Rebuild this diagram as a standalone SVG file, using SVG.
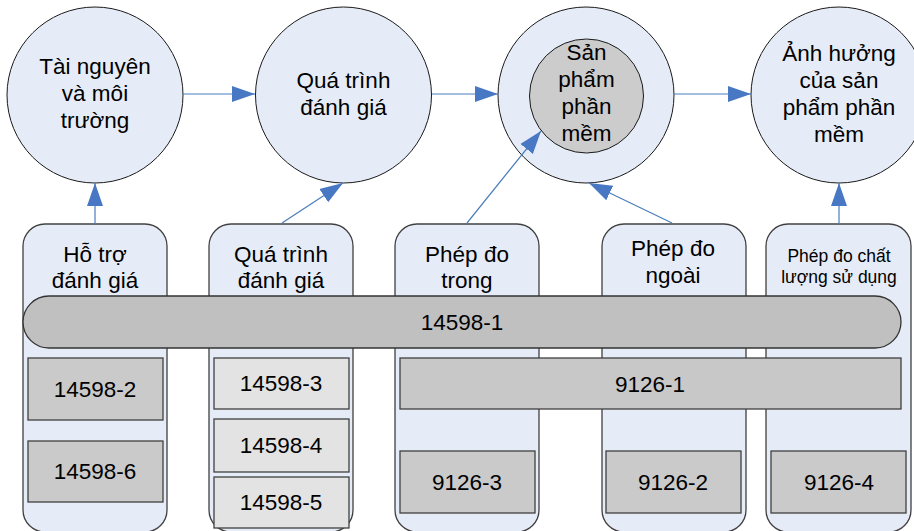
<svg xmlns="http://www.w3.org/2000/svg" width="914" height="531" viewBox="0 0 914 531">
<style>
text{font-family:"Liberation Sans",Arial,sans-serif;font-size:22.5px;fill:#000;text-anchor:middle}
.sm{font-size:17.5px}
.circ{fill:#e6ecf7;stroke:#1a1a1a;stroke-width:1}
.inner{fill:#cccccc;stroke:#1a1a1a;stroke-width:1}
.col{fill:#e6ecf7;stroke:#404040;stroke-width:1.3}
.pill{fill:#c0c0c0;stroke:#333;stroke-width:1.3}
.bar{fill:#c8c8c8;stroke:#404040;stroke-width:1.3}
.dk{fill:#cacaca;stroke:#404040;stroke-width:1.3}
.lt{fill:#e3e3e3;stroke:#404040;stroke-width:1.3}
.conn{stroke:#4a7ebb;stroke-width:1.2;fill:none;marker-end:url(#ah)}
</style>
<defs>
<marker id="ah" markerUnits="userSpaceOnUse" markerWidth="24" markerHeight="18" refX="23" refY="8" orient="auto" viewBox="0 0 24 16">
<path d="M0,0 L23,8 L0,16 z" fill="#4878c4"/>
</marker>
</defs>
<rect width="914" height="531" fill="#ffffff"/>

<g id="columns">
<g id="col1"><rect class="col" x="23" y="224" width="144" height="308" rx="22"/><text x="95" y="262">Hỗ trợ</text><text x="95" y="288">đánh giá</text></g>
<g id="col2"><rect class="col" x="209" y="224" width="144" height="308" rx="22"/><text x="281" y="262">Quá trình</text><text x="281" y="288">đánh giá</text></g>
<g id="col3"><rect class="col" x="395" y="224" width="144" height="308" rx="22"/><text x="467" y="262">Phép đo</text><text x="467" y="288">trong</text></g>
<g id="col4"><rect class="col" x="602" y="224" width="144" height="308" rx="22"/><text x="673" y="256">Phép đo</text><text x="673" y="283">ngoài</text></g>
<g id="col5"><rect class="col" x="766" y="224" width="145" height="308" rx="22"/><text class="sm" x="839" y="262">Phép đo chất</text><text class="sm" x="839" y="283">lượng sử dụng</text></g>
</g>

<g id="n14598-1"><rect class="pill" x="23" y="296" width="878" height="52" rx="26"/><text x="462" y="330">14598-1</text></g>
<g id="n9126-1"><rect class="bar" x="400" y="358" width="501" height="51"/><text x="650" y="392">9126-1</text></g>
<g id="n14598-2"><rect class="dk" x="28" y="358" width="135" height="62"/><text x="95" y="397">14598-2</text></g>
<g id="n14598-6"><rect class="dk" x="28" y="441" width="135" height="61"/><text x="95" y="479">14598-6</text></g>
<g id="n14598-3"><rect class="lt" x="214" y="358" width="135" height="51"/><text x="281" y="391">14598-3</text></g>
<g id="n14598-4"><rect class="lt" x="214" y="419" width="135" height="53"/><text x="281" y="453">14598-4</text></g>
<g id="n14598-5"><rect class="lt" x="214" y="477" width="135" height="51"/><text x="281" y="510">14598-5</text></g>
<g id="n9126-3"><rect class="dk" x="400" y="451" width="135" height="62"/><text x="467" y="490">9126-3</text></g>
<g id="n9126-2"><rect class="dk" x="606" y="451" width="135" height="62"/><text x="673" y="490">9126-2</text></g>
<g id="n9126-4"><rect class="dk" x="771" y="451" width="135" height="62"/><text x="839" y="490">9126-4</text></g>

<g id="c1"><circle class="circ" cx="95" cy="95" r="88"/><text x="95" y="74">Tài nguyên</text><text x="95" y="101">và môi</text><text x="95" y="128">trường</text></g>
<g id="c2"><circle class="circ" cx="343.5" cy="95" r="88"/><text x="343.5" y="88">Quá trình</text><text x="343.5" y="115">đánh giá</text></g>
<g id="c3"><circle class="circ" cx="586" cy="95" r="88"/><circle class="inner" cx="586.5" cy="96" r="57"/><text x="586.5" y="60">Sản</text><text x="586.5" y="87">phẩm</text><text x="586.5" y="114">phần</text><text x="586.5" y="141">mềm</text></g>
<g id="c4"><circle class="circ" cx="839" cy="95" r="88"/><text x="839" y="61">Ảnh hưởng</text><text x="839" y="88">của sản</text><text x="839" y="115">phẩm phần</text><text x="839" y="142">mềm</text></g>

<g id="connectors">
<line class="conn" x1="183" y1="94" x2="255" y2="94"/>
<line class="conn" x1="432" y1="94" x2="498" y2="94"/>
<line class="conn" x1="674" y1="94" x2="751" y2="94"/>
<line class="conn" x1="95" y1="224" x2="95" y2="183"/>
<line class="conn" x1="282" y1="223" x2="343" y2="183"/>
<line class="conn" x1="467" y1="223" x2="541" y2="131"/>
<line class="conn" x1="672" y1="223" x2="589" y2="183"/>
<line class="conn" x1="839" y1="224" x2="839" y2="183"/>
</g>
</svg>
